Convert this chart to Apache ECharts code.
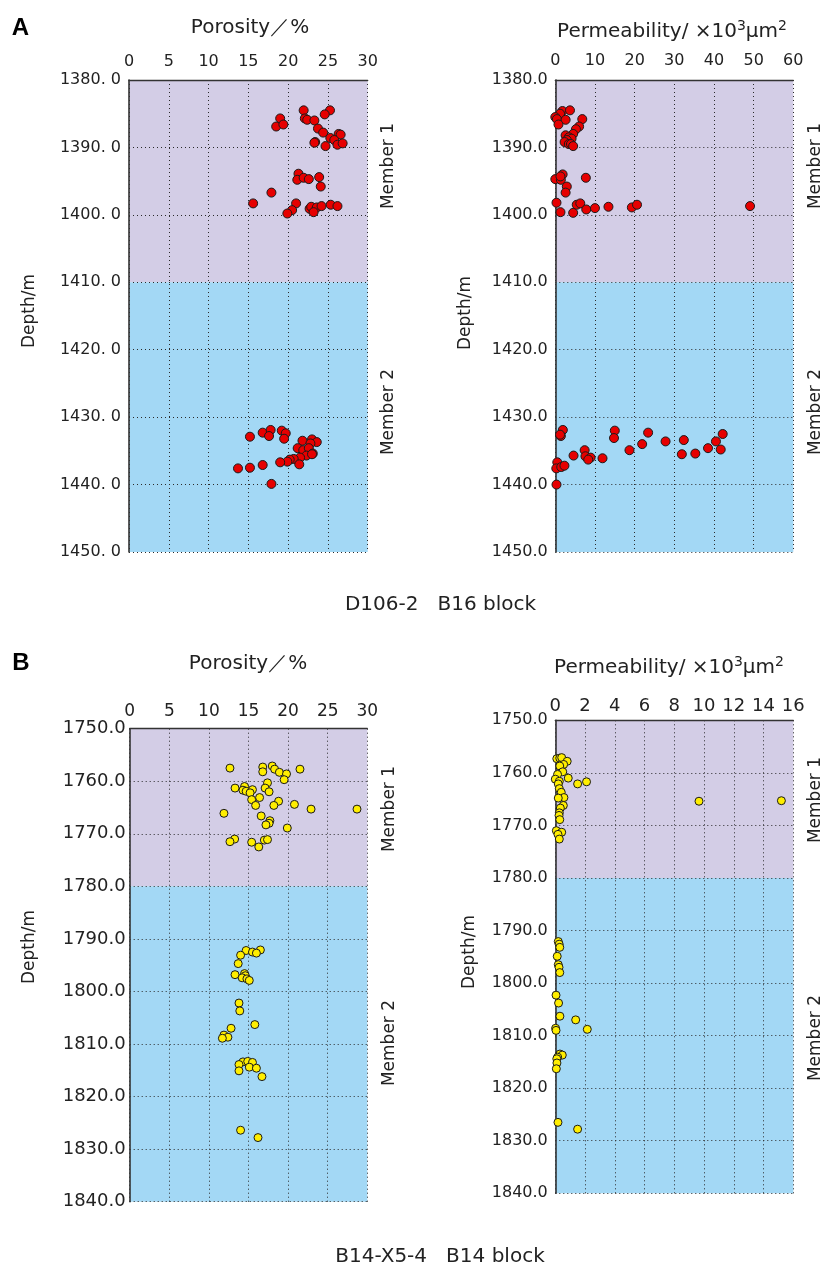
<!DOCTYPE html>
<html>
<head>
<meta charset="utf-8">
<script src="https://cdn.jsdelivr.net/npm/echarts@6/dist/echarts.min.js"></script>
<style>
html,body{margin:0;padding:0;background:#fff;}
#chart{width:825px;height:1266px;}
</style>
</head>
<body>
<div id="chart"></div>
<script>
// ---------- data: [value, depth] ----------
const porosityA = [
  [21.95,1384.5],[25.26,1384.5],[24.6,1385.1],[19.0,1385.7],[22.1,1385.7],[22.4,1385.9],[23.3,1386.0],
  [18.5,1386.9],[19.4,1386.6],[23.75,1387.2],[24.4,1387.8],[26.35,1388.0],[26.6,1388.1],[25.3,1388.6],
  [25.8,1388.9],[23.4,1389.2],[23.3,1389.3],[26.2,1389.6],[26.85,1389.4],[24.7,1389.8],
  [21.3,1393.9],[21.15,1394.8],[21.95,1394.5],[22.6,1394.7],[23.9,1394.4],[24.1,1395.8],[17.9,1396.7],
  [15.6,1398.3],[21.0,1398.3],[20.5,1399.3],[19.9,1399.8],[22.7,1399.1],[22.9,1398.8],[23.6,1398.9],
  [23.2,1399.6],[24.2,1398.7],[25.35,1398.5],[26.2,1398.7],
  [15.2,1432.9],[16.8,1432.3],[17.8,1431.9],[17.6,1432.8],[19.2,1432.0],[19.7,1432.4],[19.5,1433.2],
  [21.8,1433.5],[23.0,1433.3],[23.6,1433.7],[22.8,1433.9],[21.2,1434.6],[21.9,1434.9],[22.6,1434.6],
  [22.3,1435.7],[23.1,1435.4],[23.0,1435.5],[21.5,1436.0],[20.7,1436.2],[20.2,1436.3],[19.9,1436.6],
  [19.0,1436.7],[21.4,1437.0],[16.8,1437.1],[15.2,1437.5],[13.7,1437.6],[17.9,1439.9]
];
const permeabilityA = [
  [1.8,1384.6],[3.7,1384.5],[1.2,1385.0],[0.0,1385.5],[0.4,1385.8],[2.6,1385.9],[0.8,1386.6],
  [6.8,1385.8],[6.0,1386.9],[5.2,1387.3],[4.5,1388.0],[2.6,1388.2],[3.4,1388.5],[4.1,1388.7],
  [2.9,1388.9],[2.35,1389.2],[3.4,1389.5],[3.95,1389.5],[4.5,1389.8],
  [0.0,1394.7],[1.85,1394.0],[1.4,1394.8],[1.3,1394.3],[7.7,1394.5],[2.9,1395.8],[2.6,1396.7],
  [0.3,1398.2],[1.3,1399.6],[4.5,1399.7],[5.4,1398.5],[6.3,1398.3],[7.8,1399.2],[10.0,1399.0],
  [13.4,1398.8],[19.3,1398.9],[20.6,1398.5],[49.1,1398.7],
  [1.9,1431.9],[1.4,1432.8],[1.2,1432.6],[0.5,1436.7],[0.25,1437.6],[1.5,1437.4],[2.3,1437.2],
  [0.3,1440.0],[4.6,1435.7],[7.4,1434.9],[7.6,1435.8],[8.9,1436.0],[8.3,1436.3],[11.9,1436.1],
  [15.0,1432.0],[14.8,1433.1],[18.7,1434.9],[21.9,1434.0],[23.4,1432.3],[27.8,1433.6],[31.9,1435.5],
  [32.4,1433.4],[35.3,1435.4],[38.5,1434.6],[40.5,1433.6],[42.2,1432.5],[41.7,1434.8]
];
const porosityB = [
  [12.66,1757.5],[16.8,1757.3],[16.8,1758.2],[18.0,1757.1],[18.3,1757.7],[18.9,1758.3],[19.8,1758.6],
  [21.5,1757.7],[19.5,1759.7],[17.4,1760.3],[13.3,1761.3],[14.5,1761.0],[14.3,1761.7],[14.7,1761.9],
  [15.5,1761.6],[15.2,1762.2],[17.1,1761.3],[17.6,1762.0],[16.4,1763.1],[15.4,1763.5],[15.9,1764.6],
  [18.8,1763.8],[18.2,1764.6],[20.8,1764.4],[22.9,1765.3],[28.7,1765.3],[11.9,1766.1],[16.6,1766.6],
  [17.7,1767.5],[17.6,1768.0],[17.2,1768.3],[19.9,1768.9],[13.25,1771.0],[12.66,1771.5],[15.4,1771.6],
  [17.0,1771.2],[17.4,1771.1],[16.3,1772.5],
  [14.7,1792.2],[16.5,1792.1],[15.5,1792.5],[16.0,1792.7],[14.0,1793.1],[13.7,1794.7],[13.3,1796.8],
  [14.5,1796.6],[14.6,1797.0],[14.2,1797.4],[14.8,1797.6],[15.1,1797.9],[13.8,1802.2],[13.9,1803.7],
  [15.8,1806.3],[12.8,1807.0],[11.9,1808.3],[12.4,1808.7],[11.7,1808.9],[14.3,1813.4],[14.9,1813.3],
  [15.5,1813.5],[13.8,1813.9],[15.1,1814.4],[16.0,1814.6],[13.8,1815.1],[16.7,1816.2],[14.0,1826.4],
  [16.2,1827.8]
];
const permeabilityB = [
  [0.1,1757.3],[0.3,1757.2],[0.43,1757.1],[0.8,1757.8],[0.56,1758.4],[0.3,1758.7],[0.5,1759.8],
  [0.15,1760.3],[0.0,1761.2],[0.27,1761.6],[0.2,1762.1],[0.87,1761.0],[1.5,1762.1],[2.1,1761.7],
  [0.27,1763.0],[0.4,1763.7],[0.58,1764.7],[0.2,1764.8],[0.54,1766.2],[0.34,1766.7],[0.27,1767.6],
  [0.25,1768.1],[0.3,1768.9],[0.07,1771.0],[0.43,1771.3],[0.18,1771.7],[0.27,1772.6],[9.66,1765.4],
  [15.2,1765.3],
  [0.2,1792.1],[0.26,1792.6],[0.3,1793.2],[0.13,1794.9],[0.2,1796.5],[0.25,1797.0],[0.3,1798.0],
  [0.05,1802.3],[0.22,1803.8],[0.31,1806.3],[1.37,1807.0],[2.15,1808.8],[0.02,1808.6],[0.05,1809.0],
  [0.31,1813.5],[0.47,1813.7],[0.16,1814.1],[0.1,1814.4],[0.11,1815.2],[0.07,1816.3],[0.18,1826.5],
  [1.5,1827.8]
];
// depth ranges and member boundaries
const depthA = [1380, 1450], boundaryA = 1410;
const depthB = [1750, 1840], boundaryB = 1780;
const porosityRange = [0, 30], porosityStep = 5;
const permRangeA = [0, 60], permStepA = 10;
const permRangeB = [0, 16], permStepB = 2;

// ---------- styling ----------
const FONT = 'DejaVu Sans';
const PURPLE = '#d3cde6', BLUE = '#a3d8f5';
const TXT = '#222';
const gridLine = {show:true, lineStyle:{color:'#2a2a2a', type:[1,3], width:1}};

const panels = [
  {grid:{left:129, top:80, width:238.7, height:472}, x:porosityRange, xs:porosityStep, y:depthA, b:boundaryA,
   data:porosityA, color:'#e60000', size:9, xFont:16, yFont:16, xMargin:10, yMargin:8, spaced:true},
  {grid:{left:555.3, top:80, width:238, height:472}, x:permRangeA, xs:permStepA, y:depthA, b:boundaryA,
   data:permeabilityA, color:'#e60000', size:9, xFont:16, yFont:16, xMargin:11, yMargin:7.5, spaced:false},
  {grid:{left:129.7, top:728.7, width:237.6, height:473}, x:porosityRange, xs:porosityStep, y:depthB, b:boundaryB,
   data:porosityB, color:'#ffee00', size:8, xFont:17, yFont:18, xMargin:9, yMargin:4, spaced:false},
  {grid:{left:555.3, top:720.3, width:238, height:473}, x:permRangeB, xs:permStepB, y:depthB, b:boundaryB,
   data:permeabilityB, color:'#ffee00', size:8, xFont:18, yFont:16, xMargin:5, yMargin:7.5, spaced:false}
];

const grid = [], xAxis = [], yAxis = [], series = [];
panels.forEach((p, i) => {
  grid.push(p.grid);
  xAxis.push({
    gridIndex:i, type:'value', position:'top', min:p.x[0], max:p.x[1], interval:p.xs, z:3,
    axisLine:{show:true, onZero:false, lineStyle:{color:'#333', width:1.3}},
    axisTick:{show:false},
    axisLabel:{fontFamily:FONT, fontSize:p.xFont, color:TXT, margin:p.xMargin},
    splitLine:gridLine
  });
  yAxis.push({
    gridIndex:i, type:'value', inverse:true, min:p.y[0], max:p.y[1], interval:10, z:3,
    axisLine:{show:true, onZero:false, lineStyle:{color:'#333', width:1.6}},
    axisTick:{show:false},
    axisLabel:{fontFamily:FONT, fontSize:p.yFont, color:TXT, margin:p.yMargin,
      formatter: v => p.spaced ? v.toFixed(1).replace('.', '. ') : v.toFixed(1)},
    splitLine:gridLine
  });
  series.push({
    type:'scatter', xAxisIndex:i, yAxisIndex:i, data:[], z:1, silent:true,
    markArea:{silent:true, data:[
      [{coord:[p.x[0], p.y[0]], itemStyle:{color:PURPLE, opacity:1}}, {coord:[p.x[1], p.b]}],
      [{coord:[p.x[0], p.b], itemStyle:{color:BLUE, opacity:1}}, {coord:[p.x[1], p.y[1]]}]
    ]}
  });
  series.push({
    type:'scatter', xAxisIndex:i, yAxisIndex:i, data:p.data, z:5,
    symbol:'circle', symbolSize:p.size,
    itemStyle:{color:p.color, borderColor:'#1a1a1a', borderWidth:1, opacity:1}
  });
});

function txt(x, y, text, size, rich) {
  return {
    type:'text', x:x, y:y,
    style:{text:text, fontFamily:FONT, fontSize:size, fill:TXT, align:'center', verticalAlign:'middle', rich:rich}
  };
}
function rtxt(x, y, text, size) {
  return {type:'text', x:x, y:y, rotation:Math.PI/2,
    style:{text:text, fontFamily:FONT, fontSize:size, fill:TXT, align:'center', verticalAlign:'middle'}};
}
const supRich = {s:{fontFamily:FONT, fontSize:14, fill:TXT, padding:[0,0,11,0]}};

const graphic = [
  {type:'text', x:20.5, y:28, style:{text:'A', fontFamily:'Liberation Sans', fontWeight:'bold', fontSize:24, fill:'#000', align:'center', verticalAlign:'middle'}},
  {type:'text', x:21, y:663, style:{text:'B', fontFamily:'Liberation Sans', fontWeight:'bold', fontSize:24, fill:'#000', align:'center', verticalAlign:'middle'}},
  txt(250, 28, 'Porosity／%', 20),
  txt(672, 32, 'Permeability/ ×10{s|3}μm{s|2}', 20, supRich),
  txt(248, 664, 'Porosity／%', 20),
  txt(669, 668, 'Permeability/ ×10{s|3}μm{s|2}', 20, supRich),
  rtxt(30, 311, 'Depth/m', 17),
  rtxt(466, 313, 'Depth/m', 17),
  rtxt(30, 947, 'Depth/m', 17),
  rtxt(470, 952, 'Depth/m', 17),
  rtxt(389, 166, 'Member 1', 17),
  rtxt(389, 412, 'Member 2', 17),
  rtxt(816, 166, 'Member 1', 17),
  rtxt(816, 412, 'Member 2', 17),
  rtxt(390, 809, 'Member 1', 17),
  rtxt(390, 1043, 'Member 2', 17),
  rtxt(816, 800, 'Member 1', 17),
  rtxt(816, 1038, 'Member 2', 17),
  txt(440.5, 604.5, 'D106-2   B16 block', 20),
  txt(440, 1257, 'B14-X5-4   B14 block', 20)
];

const chart = echarts.init(document.getElementById('chart'), null, {renderer:'canvas'});
chart.setOption({
  backgroundColor:'#fff',
  animation:false,
  grid, xAxis, yAxis, series, graphic
});
</script>
</body>
</html>
